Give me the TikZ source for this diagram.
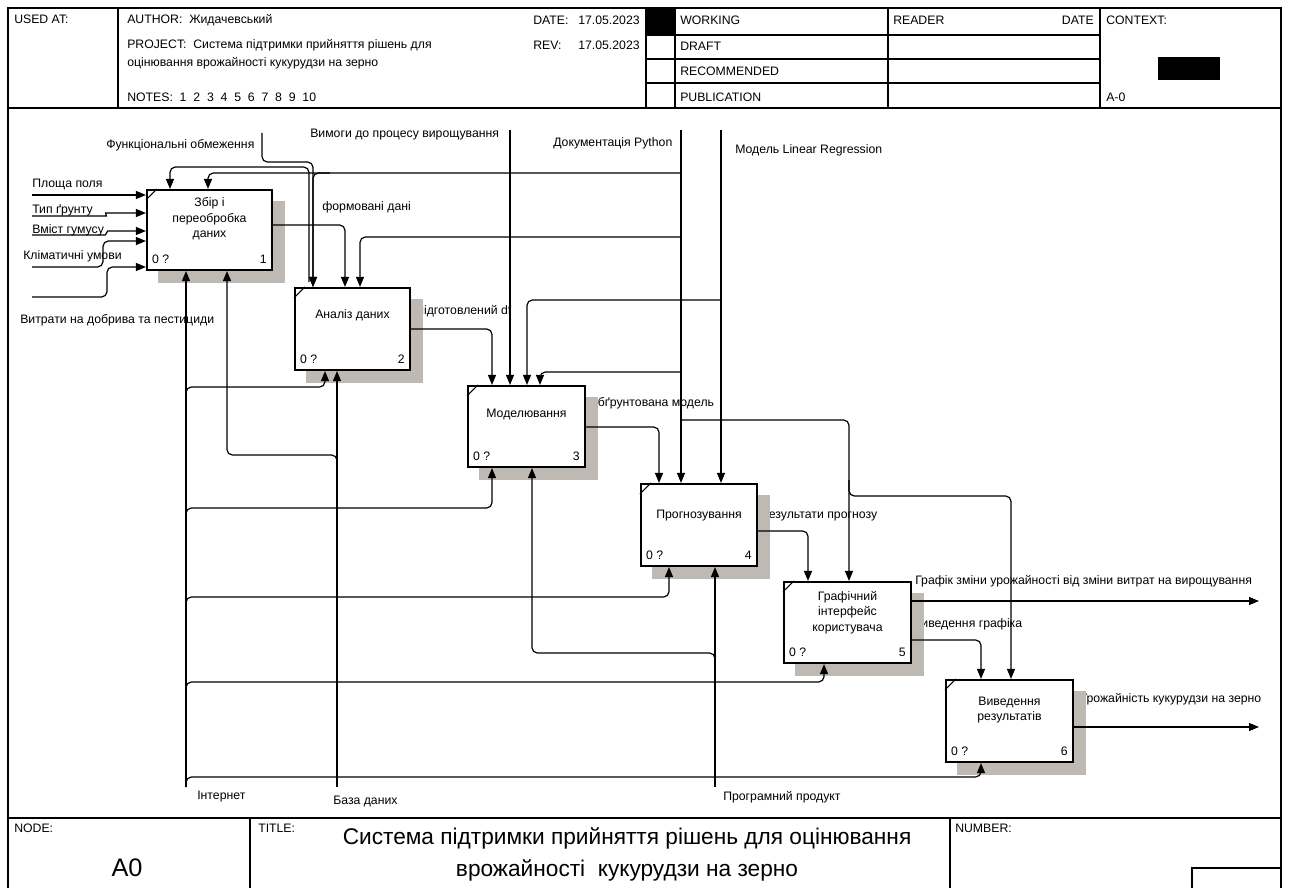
\documentclass[tikz,border=0pt]{standalone}
\usepackage{fontspec}
\setmainfont{Liberation Sans}
\usetikzlibrary{arrows.meta,calc}
\pgfdeclarelayer{bg}
\pgfsetlayers{bg,main}
\definecolor{shadowc}{RGB}{190,186,179}
\begin{document}
\begin{tikzpicture}[x=0.75pt,y=-0.75pt,
  conn/.style={line width=0.9pt, rounded corners=4pt},
  arr/.style={conn, -{Triangle[length=7.5pt,width=6pt]}},
  frame/.style={line width=0.9pt},
  fbox/.style={draw, line width=1.6pt, fill=white, inner sep=0pt},
  lab/.style={font=\fontsize{9.2}{10}\selectfont, inner sep=0pt, anchor=west},
  btxt/.style={font=\fontsize{9.2}{11.5}\selectfont, align=center, inner sep=0pt},
  tick/.style={line width=0.9pt}]
\useasboundingbox (0,0) rectangle (1289,888);
% ---------- frame ----------
\draw[frame] (8,888) -- (8,8) -- (1281,8) -- (1281,888);
\draw[frame] (8,108) -- (1281,108);
\draw[frame] (8,818) -- (1281,818);
\draw[frame] (118,8) -- (118,108);
\draw[frame] (646,8) -- (646,108);
\draw[frame] (675,8) -- (675,108);
\draw[frame] (888,8) -- (888,108);
\draw[frame] (1100,8) -- (1100,108);
\draw[frame] (646,35) -- (1100,35);
\draw[frame] (646,59) -- (1100,59);
\draw[frame] (646,83) -- (1100,83);
\fill (646,8) rectangle (675,35);
\fill (1158,57) rectangle (1220,80);
\draw[frame] (250,818) -- (250,888);
\draw[frame] (950,818) -- (950,888);
\draw[frame] (1192,888) -- (1192,868) -- (1281,868);
% ---------- header text ----------
\node[lab] (hUsed) at (14,19) {USED AT:};
\node[lab] (hAuth) at (127,20) {AUTHOR:\ \ Жидачевський};
\node[lab] (hProj) at (127,45) {PROJECT:\ \ Система підтримки прийняття рішень для};
\node[lab] (hProj2) at (127,63) {оцінювання врожайності кукурудзи на зерно};
\node[lab] (hNotes) at (127,97) {NOTES:\ \ 1\ \ 2\ \ 3\ \ 4\ \ 5\ \ 6\ \ 7\ \ 8\ \ 9\ \ 10};
\node[lab] (hDate) at (533,20) {DATE:};
\node[lab] (hDateV) at (578,20) {17.05.2023};
\node[lab] (hRev) at (533,45) {REV:};
\node[lab] (hRevV) at (578,45) {17.05.2023};
\node[lab] (hW) at (680,20) {WORKING};
\node[lab] (hD) at (680,46) {DRAFT};
\node[lab] (hR) at (680,71) {RECOMMENDED};
\node[lab] (hP) at (680,97) {PUBLICATION};
\node[lab] (hRd) at (893,20) {READER};
\node[lab, anchor=east] (hRdD) at (1094,20) {DATE};
\node[lab] (hCtx) at (1106,20) {CONTEXT:};
\node[lab] (hA) at (1106,97) {A-0};
% ---------- footer text ----------
\node[lab] (fNode) at (14,828) {NODE:};
\node[lab] (fTitle) at (258,828) {TITLE:};
\node[lab] (fNum) at (955,828) {NUMBER:};
\node[font=\fontsize{19}{20}\selectfont, inner sep=0pt] (fA0) at (127,868) {A0};
\node[font=\fontsize{17}{24}\selectfont, align=center, inner sep=0pt] (fT) at (627,854)
  {Система підтримки прийняття рішень для оцінювання\\врожайності\ \ кукурудзи на зерно};
% ---------- boxes ----------
\node[fbox, minimum width=125*0.75pt, minimum height=80*0.75pt] (B1) at (209.5,230) {};
\node[fbox, minimum width=115*0.75pt, minimum height=82*0.75pt] (B2) at (352.5,329) {};
\node[fbox, minimum width=117*0.75pt, minimum height=81*0.75pt] (B3) at (526.5,426.5) {};
\node[fbox, minimum width=116*0.75pt, minimum height=82*0.75pt] (B4) at (699,525) {};
\node[fbox, minimum width=127*0.75pt, minimum height=81*0.75pt] (B5) at (847.5,622.5) {};
\node[fbox, minimum width=127*0.75pt, minimum height=82*0.75pt] (B6) at (1009.5,721) {};
\foreach \b/\n in {B1/1,B2/2,B3/3,B4/4,B5/5,B6/6}{
  \draw[tick] ($(\b.north west)+(0,11)$) -- ($(\b.north west)+(11,0)$);
  \node[lab] (\b q) at ($(\b.south west)+(6,-12)$) {0 ?};
  \node[lab, anchor=east] (\b n) at ($(\b.south east)+(-6,-12)$) {\n};
}
\node[btxt] (B1t) at ($(B1.center)+(0,-11)$) {Збір і\\переобробка\\даних};
\node[btxt] (B2t) at ($(B2.center)+(0,-14)$) {Аналіз даних};
\node[btxt] (B3t) at ($(B3.center)+(0,-12)$) {Моделювання};
\node[btxt] (B4t) at ($(B4.center)+(0,-9)$) {Прогнозування};
\node[btxt] (B5t) at ($(B5.center)+(0,-10)$) {Графічний\\інтерфейс\\користувача};
\node[btxt] (B6t) at ($(B6.center)+(0,-11)$) {Виведення\\результатів};
% ---------- labels and shadows (below) ----------
\begin{pgfonlayer}{bg}
\node[lab] (lFu) at (106,145) {Функціональні обмеження};
\node[lab] (lVy) at (310,135) {Вимоги до процесу вирощування};
\node[lab] (lDo) at (553,143) {Документація Python};
\node[lab] (lMo) at (735,150) {Модель Linear Regression};
\node[lab] (lPl) at (32,185) {Площа поля};
\node[lab] (lTg) at (32,210) {Тип ґрунту};
\node[lab] (lVm) at (32,230) {Вміст гумусу};
\node[lab] (lKl) at (23,256) {Кліматичні умови};
\node[lab] (lVt) at (20,320) {Витрати на добрива та пестициди};
\node[lab] (lFd) at (322,207) {формовані дані};
\node[lab] (lPd) at (415,311) {Підготовлений df};
\node[lab] (lOm) at (588,403) {Обґрунтована модель};
\node[lab] (lRp) at (761,516) {Результати прогнозу};
\node[lab] (lGr) at (915,581) {Графік зміни урожайності від зміни витрат на вирощування};
\node[lab] (lVg) at (913,624) {Виведення графіка};
\node[lab] (lUr) at (1079,699) {Урожайність кукурудзи на зерно};
\node[lab] (lIn) at (197,797) {Інтернет};
\node[lab] (lBd) at (333,801) {База даних};
\node[lab] (lPp) at (723,797) {Програмний продукт};
\foreach \b in {B1,B2,B3,B4,B5,B6}{
  \fill[shadowc] ($(\b.north west)+(12,12)$) rectangle ($(\b.south east)+(12,12)$);
}
\end{pgfonlayer}
% ---------- free ends ----------
\coordinate (iPl) at (32,195);
\coordinate (iTg) at (32,216);
\coordinate (iVm) at (32,235);
\coordinate (iKl) at (32,267);
\coordinate (iVt) at (32,297);
\coordinate (cFu) at (262,133);
\coordinate (cVy) at (510,130);
\coordinate (cDo) at (681,130);
\coordinate (cMo) at (721,130);
\coordinate (mIn) at (186,787);
\coordinate (mBa) at (337,787);
\coordinate (mPr) at (715,787);
\coordinate (oGr) at (1259,601);
\coordinate (oUr) at (1259,727);
% ---------- inputs ----------
\draw[arr] (iPl) -- (B1.west |- iPl);
\draw[arr] (iTg) -- (101,216) to[out=0,in=180] (111,213) -- (B1.west |- 111,213);
\draw[arr] (iVm) -- (100,235) to[out=0,in=180] (113,231) -- (B1.west |- 113,231);
\draw[arr] (iKl) -- (103,267) -- (103,241) -- (B1.west |- 103,241);
\draw[arr] (iVt) -- (107,297) -- (107,267) -- (B1.west |- 107,267);
% ---------- controls ----------
\draw[arr] (cFu) |- (313,162) -- (B2.north -| 313,0);
\draw[arr] (309,282) |- (170,167) -- (B1.north -| 170,0);
\draw[arr] (cDo) -- (B4.north -| cDo);
\draw[arr] (cDo |- 0,173) -| (B1.north -| 208,0);
\draw[arr] (330,173) -| (B2.north -| 313,0);
\draw[arr] (cDo |- 0,237) -| (B2.north -| 360,0);
\draw[arr] (cDo |- 0,372) -| (B3.north -| 540,0);
\draw[arr] (cDo |- 0,420) -| (B5.north -| 849,0);
\draw[arr] (849,480) |- (1011,496) -- (B6.north -| 1011,0);
\draw[arr] (cVy) -- (B3.north -| cVy);
\draw[arr] (cMo) -- (B4.north -| cMo);
\draw[arr] (cMo |- 0,300) -| (B3.north -| 527,0);
% ---------- outputs ----------
\draw[arr] (B1.east |- 0,225) -| (B2.north -| 345,0);
\draw[arr] (B2.east |- 0,329) -| (B3.north -| 492,0);
\draw[arr] (B3.east |- 0,427) -| (B4.north -| 659,0);
\draw[arr] (B4.east |- 0,531) -| (B5.north -| 808,0);
\draw[arr] (B5.east |- oGr) -- (oGr);
\draw[arr] (B5.east |- 0,640) -| (B6.north -| 981,0);
\draw[arr] (B6.east |- oUr) -- (oUr);
% ---------- mechanisms ----------
\draw[arr] (mIn) -- (B1.south -| mIn);
\draw[arr] (186,397) |- (325,387) -- (B2.south -| 325,0);
\draw[arr] (186,518) |- (492,508) -- (B3.south -| 492,0);
\draw[arr] (186,607) |- (669,597) -- (B4.south -| 669,0);
\draw[arr] (186,692) |- (824,682) -- (B5.south -| 824,0);
\draw[arr] (186,787) |- (981,777) -- (B6.south -| 981,0);
\draw[arr] (mBa) -- (B2.south -| mBa);
\draw[arr] (337,463) |- (227,455) -- (B1.south -| 227,0);
\draw[arr] (mPr) -- (B4.south -| mPr);
\draw[arr] (715,661) |- (532,653) -- (B3.south -| 532,0);
\end{tikzpicture}
\end{document}
